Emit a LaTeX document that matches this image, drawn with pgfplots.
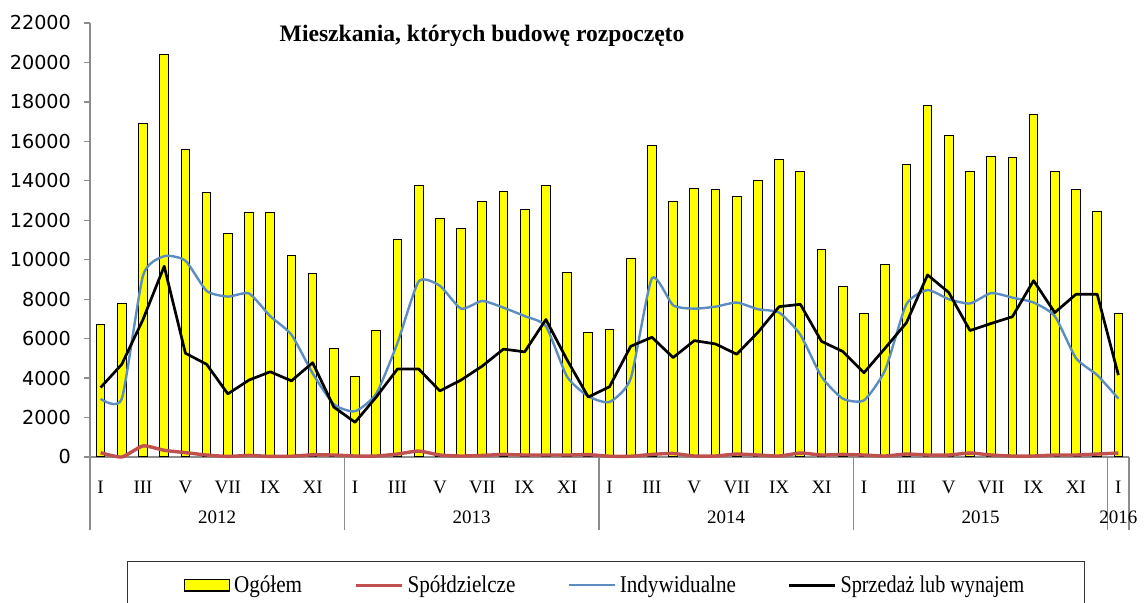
\documentclass[border=0pt]{standalone}
\usepackage{fontspec}
\setmainfont{Liberation Serif}
\newfontfamily\ticksans{DejaVu Sans}
\newfontfamily\legfont[FakeStretch=0.88]{Liberation Serif}
\newfontfamily\legfontn[FakeStretch=0.84]{Liberation Serif}
\usepackage{pgfplots}
\pgfplotsset{compat=1.18}
\definecolor{ogolem}{HTML}{FFFF00}
\definecolor{spoldz}{HTML}{C0504D}
\definecolor{indyw}{HTML}{5B8DC3}
\definecolor{axisgray}{HTML}{8C8C8C}

\begin{document}
\begin{tikzpicture}
\useasboundingbox (-45pt,-73pt) rectangle (527pt,228.5pt);
\begin{axis}[
    scale only axis,
    width=519.5pt,
    height=217pt,
    clip=false,
    xmin=-0.5, xmax=48.5,
    ymin=0, ymax=22000,
    ytick={0,2000,...,22000},
    scaled y ticks=false,
    xtick={0,2,...,48},
    xticklabels={I,III,V,VII,IX,XI,I,III,V,VII,IX,XI,I,III,V,VII,IX,XI,I,III,V,VII,IX,XI,I},
    axis x line*=bottom,
    axis y line*=left,
    axis line style={axisgray, line width=0.6pt},
    ytick style={axisgray, line width=0.6pt},
    xtick style={draw=none},
    tick align=outside,
    major tick length=3pt,
    yticklabel style={font=\ticksans\fontsize{9.6}{11}\selectfont, xshift=-3pt},
    xticklabel style={font=\fontsize{9.5}{11}\selectfont, anchor=center, yshift=-12pt},
    /pgf/number format/1000 sep={},
    /pgf/number format/assume math mode=true,
    legend columns=4,
    legend style={at={(0.0356,-0.239)}, anchor=north west, draw=black!80, line width=0.7pt,
        font=\legfont\fontsize{12}{14}\selectfont, inner xsep=28pt, inner ysep=5pt,
        /tikz/every odd column/.append style={column sep=0pt},
        /tikz/every even column/.append style={column sep=24pt}},
]
\addplot[ybar, bar width=0.41, fill=ogolem, draw=black, line width=0.5pt,
    legend image code/.code={\draw[fill=ogolem,draw=black,line width=0.7pt] (0pt,-2.8pt) rectangle (22.5pt,2.8pt);}]
coordinates {
(0,6700) (1,7800) (2,16900) (3,20400) (4,15600) (5,13400) (6,11350) (7,12400) (8,12400) (9,10200) (10,9300) (11,5500)
(12,4100) (13,6400) (14,11030) (15,13750) (16,12080) (17,11560) (18,12930) (19,13470) (20,12560) (21,13770) (22,9350) (23,6300)
(24,6450) (25,10050) (26,15770) (27,12940) (28,13620) (29,13540) (30,13230) (31,14000) (32,15070) (33,14470) (34,10510) (35,8620)
(36,7250) (37,9750) (38,14850) (39,17810) (40,16290) (41,14470) (42,15230) (43,15160) (44,17350) (45,14470) (46,13550) (47,12420)
(48,7250)
};
\addlegendentry{Ogółem}

\addplot[spoldz, line width=1.7pt, smooth, tension=0.35,
    legend image code/.code={\draw[spoldz,line width=1.7pt] (0pt,0pt) -- (23pt,0pt);}]
coordinates {
(0,220) (1,0) (2,560) (3,340) (4,220) (5,100) (6,30) (7,80) (8,30) (9,40) (10,110) (11,100)
(12,50) (13,50) (14,150) (15,300) (16,100) (17,50) (18,80) (19,130) (20,100) (21,100) (22,100) (23,120)
(24,40) (25,40) (26,130) (27,180) (28,50) (29,50) (30,150) (31,100) (32,50) (33,200) (34,100) (35,130)
(36,100) (37,50) (38,150) (39,100) (40,100) (41,200) (42,100) (43,50) (44,50) (45,100) (46,100) (47,150)
(48,200)
};
\addlegendentry{Spółdzielcze}

\addplot[indyw, line width=1.2pt, smooth, tension=0.35,
    legend image code/.code={\draw[indyw,line width=1.2pt] (0pt,0pt) -- (23pt,0pt);}]
coordinates {
(0,2950) (1,2950) (2,9200) (3,10180) (4,9950) (5,8420) (6,8130) (7,8290) (8,7140) (9,6200) (10,4240) (11,2670)
(12,2320) (13,3210) (14,5780) (15,8900) (16,8680) (17,7520) (18,7910) (19,7570) (20,7140) (21,6630) (22,4070) (23,3080)
(24,2790) (25,3980) (26,9060) (27,7690) (28,7520) (29,7620) (30,7830) (31,7490) (32,7320) (33,6200) (34,4070) (35,2960)
(36,2870) (37,4410) (38,7740) (39,8460) (40,8000) (41,7780) (42,8310) (43,8080) (44,7830) (45,7140) (46,5010) (47,4150)
(48,2960)
};
\addlegendentry{Indywidualne}

\addplot[black, line width=1.35pt, line join=round,
    legend image code/.code={\draw[black,line width=1.35pt] (0pt,0pt) -- (23pt,0pt);}]
coordinates {
(0,3520) (1,4700) (2,6970) (3,9670) (4,5260) (5,4700) (6,3200) (7,3900) (8,4320) (9,3860) (10,4780) (11,2530)
(12,1760) (13,3040) (14,4460) (15,4460) (16,3350) (17,3900) (18,4610) (19,5470) (20,5330) (21,6970) (22,4920) (23,3040)
(24,3560) (25,5610) (26,6070) (27,5040) (28,5900) (29,5730) (30,5210) (31,6320) (32,7620) (33,7740) (34,5860) (35,5350)
(36,4270) (37,5520) (38,6800) (39,9230) (40,8340) (41,6410) (42,6770) (43,7110) (44,8940) (45,7320) (46,8250) (47,8250)
(48,4150)
};
\addlegendentry{\legfontn Sprzedaż lub wynajem}

% separators between years
\draw[axisgray, line width=0.6pt] (axis cs:-0.5,0) -- ([yshift=-36.5pt]axis cs:-0.5,0);
\draw[axisgray, line width=0.6pt] (axis cs:11.5,0) -- ([yshift=-36.5pt]axis cs:11.5,0);
\draw[axisgray, line width=0.6pt] (axis cs:23.5,0) -- ([yshift=-36.5pt]axis cs:23.5,0);
\draw[axisgray, line width=0.6pt] (axis cs:35.5,0) -- ([yshift=-36.5pt]axis cs:35.5,0);
\draw[axisgray, line width=0.6pt] (axis cs:47.5,0) -- ([yshift=-36.5pt]axis cs:47.5,0);
\draw[axisgray, line width=0.6pt] (axis cs:48.5,0) -- ([yshift=-36.5pt]axis cs:48.5,0);
\node[font=\fontsize{9.5}{11}\selectfont] at ([yshift=-30pt]axis cs:5.5,0) {2012};
\node[font=\fontsize{9.5}{11}\selectfont] at ([yshift=-30pt]axis cs:17.5,0) {2013};
\node[font=\fontsize{9.5}{11}\selectfont] at ([yshift=-30pt]axis cs:29.5,0) {2014};
\node[font=\fontsize{9.5}{11}\selectfont] at ([yshift=-30pt]axis cs:41.5,0) {2015};
\node[font=\fontsize{9.5}{11}\selectfont] at ([yshift=-30pt]axis cs:48,0) {2016};

\node[font=\bfseries\fontsize{11.8}{14}\selectfont, anchor=base] at (axis cs:17.99,21050) {Mieszkania, których budowę rozpoczęto};
\end{axis}
\end{tikzpicture}
\end{document}
